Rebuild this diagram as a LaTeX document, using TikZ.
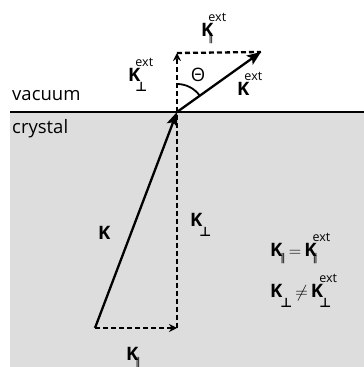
\documentclass[tikz,border=0pt]{standalone}
\usepackage{amsmath, amssymb}
\usepackage{fontspec}
\setmainfont{Open Sans}
\newfontfamily\symfont{DejaVu Sans}
\usepackage{xcolor}
\usetikzlibrary{arrows.meta, angles}
\definecolor{crystalgray}{RGB}{221,221,221}
\tikzstyle{lbl}   = [inner sep=0pt, font=\fontsize{18.5}{22}\selectfont]
\tikzstyle{vec}   = [-{Stealth[length=14pt, width=11pt, inset=3pt]}, line width=2.3pt]
\tikzstyle{dline} = [line width=2.3pt, dash pattern=on 5pt off 3pt]
\tikzstyle{dvec}  = [dline, -{Stealth[length=8pt, width=8pt]}]
% K with a subscript and a superscript tucked under/over its right arm
\newcommand{\kv}[3][5pt]{\textbf{K}\kern-#1\rlap{\raisebox{15pt}{\fontsize{12.5}{12}\selectfont #3}}#2}
\newcommand{\sperp}{\raisebox{-10pt}{\symfont\bfseries\fontsize{13}{13}\selectfont ⊥}}
\newcommand{\spar}{\raisebox{-5pt}{\symfont\fontsize{10.5}{10}\selectfont ∥}}

\begin{document}
\begin{tikzpicture}[x=1pt, y=1pt]
  \useasboundingbox (0,0) rectangle (364,367);

  % crystal and surface
  \fill[crystalgray] (10,0) rectangle (364,255);
  \coordinate (sl) at (10,255);
  \coordinate (sr) at (364,255);
  \draw[line width=2.6pt] (sl) -- (sr);

  \coordinate (O) at (177,255);
  \coordinate (A) at (95,39);
  \coordinate (B) at (177,39);
  \coordinate (T) at (177,314);
  \coordinate (E) at (261,315);

  \draw[dline] (B) -- (O);
  \draw[dvec] (A) -- (B);
  \draw[dvec] (O) -- (T);
  \draw[dline] (T) -- (E);
  \draw[vec] (A) -- (O);
  \draw[vec] (O) -- (E);
  \pic[draw, line width=1.8pt, angle radius=28pt] {angle = E--O--T};

  \node[lbl, anchor=base west] (vac) at (12,266) {vacuum};
  \node[lbl, anchor=base west] (cry) at (12,233) {crystal};
  \node[lbl] (th) at (198,292) {Θ};

  \node[lbl, anchor=base west] (kpe) at (128,285) {\kv{\sperp}{ext}};
  \node[lbl, anchor=base west] (kpa) at (201,330) {\kv{\spar}{ext}};
  \node[lbl, anchor=base west] (kex) at (237,271) {\kv{}{ext}};

  \node[lbl, anchor=base west] (k)   at (98,127) {\textbf{K}};
  \node[lbl, anchor=base west] (kpi) at (190,140) {\kv[3pt]{\sperp}{}};
  \node[lbl, anchor=base west] (kpb) at (126,6) {\kv[3pt]{\spar}{}};

  \node[lbl, anchor=base west] (eq1) at (270,110)
    {\kv[2pt]{\spar}{}\,$=$\,\kv[4pt]{\spar}{ext}};
  \node[lbl, anchor=base west] (eq2) at (270,69)
    {\kv[2pt]{\sperp}{}\,$\neq$\,\kv[4pt]{\sperp}{ext}};
\end{tikzpicture}
\end{document}
